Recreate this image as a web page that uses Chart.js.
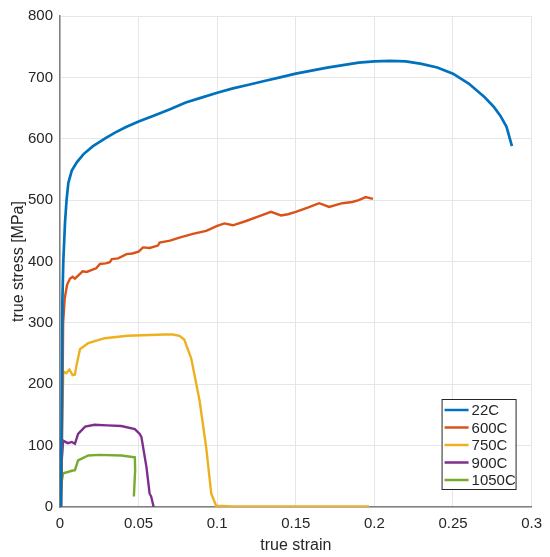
<!DOCTYPE html>
<html>
<head>
<meta charset="utf-8">
<script src="https://cdn.jsdelivr.net/npm/chart.js@4.4.1/dist/chart.umd.min.js"></script>
<style>
  html, body { margin: 0; padding: 0; background: #fff; }
  #wrap { width: 550px; height: 557px; position: relative; }
</style>
</head>
<body>
<div id="wrap"><canvas id="myChart"></canvas></div>
<script>
// valores
var etiquetas = ['22C', '600C', '750C', '900C', '1050C'];
var colores = ['#0072BD', '#D95319', '#EDB120', '#7E2F8E', '#77AC30'];

var strain22 = [0.0006, 0.0012, 0.0015, 0.0021, 0.0032, 0.0042, 0.0053, 0.0075, 0.0108, 0.015, 0.021, 0.029, 0.035, 0.042, 0.05, 0.06, 0.07, 0.08, 0.09, 0.1, 0.11, 0.12, 0.13, 0.14, 0.15, 0.16, 0.17, 0.18, 0.19, 0.2, 0.21, 0.22, 0.23, 0.24, 0.25, 0.26, 0.27, 0.276, 0.28, 0.284, 0.2875];
var stress22 = [0, 200, 334, 400, 464, 501, 528, 548, 562, 575, 588, 601, 610, 619, 628, 638, 648, 659, 667, 675, 682, 688, 694, 700, 706, 711, 716, 720, 724, 726, 727, 726, 722, 716, 706, 690, 668, 652, 638, 620, 588];

var strain600 = [0.0008, 0.0015, 0.002, 0.003, 0.0045, 0.0063, 0.008, 0.0095, 0.0127, 0.0144, 0.017, 0.0211, 0.023, 0.0254, 0.029, 0.0317, 0.033, 0.037, 0.0423, 0.046, 0.05, 0.0528, 0.057, 0.0623, 0.0634, 0.07, 0.076, 0.0845, 0.093, 0.1, 0.1046, 0.11, 0.1184, 0.1268, 0.1342, 0.1406, 0.145, 0.15, 0.158, 0.1649, 0.1712, 0.1796, 0.186, 0.19, 0.1945, 0.1991];
var stress600 = [0, 150, 300, 340, 362, 372, 375, 372, 380, 384, 383, 387, 389, 396, 397, 399, 404, 405, 412, 413, 416, 423, 422, 426, 431, 434, 439, 445, 450, 458, 462, 459, 466, 474, 481, 475, 477, 481, 488, 495, 489, 495, 497, 500, 505, 502];

var strain750 = [0.0005, 0.0012, 0.0021, 0.004, 0.006, 0.008, 0.0095, 0.0106, 0.0127, 0.018, 0.0285, 0.043, 0.0666, 0.0718, 0.076, 0.079, 0.0835, 0.0888, 0.093, 0.0962, 0.0993, 0.11, 0.15, 0.1966];
var stress750 = [0, 130, 221, 218, 224, 215, 216, 232, 257, 267, 275, 279, 281, 281, 279, 273, 242, 173, 97, 22, 2, 1, 1, 1];

var strain900 = [0.0003, 0.0012, 0.002, 0.005, 0.0075, 0.0095, 0.0115, 0.016, 0.022, 0.03, 0.039, 0.0476, 0.0507, 0.0518, 0.055, 0.057, 0.058, 0.0596];
var stress900 = [0, 80, 108, 104, 106, 103, 119, 131, 134, 133, 132, 127, 119, 114, 65, 22, 17, 0];

var strain1050 = [0, 0.001, 0.002, 0.005, 0.0075, 0.0095, 0.0115, 0.018, 0.025, 0.039, 0.0476, 0.0478, 0.047];
var stress1050 = [11, 40, 55, 57, 59, 60, 76, 84, 85, 84, 81, 60, 17];

var series = [[strain22, stress22], [strain600, stress600], [strain750, stress750], [strain900, stress900], [strain1050, stress1050]];

function puntos(xs, ys) {
    return xs.map(function (x, i) { return { x: x, y: ys[i] }; });
}

var datasets = series.map(function (s, i) {
    return {
        label: etiquetas[i],
        data: puntos(s[0], s[1]),
        borderColor: colores[i],
        backgroundColor: colores[i],
        borderWidth: i == 0 ? 2.7 : 2.4,
        showLine: true,
        pointRadius: 0,
        tension: 0
    };
});

// leyenda dibujada dentro del area como en matlab
const leyenda = {
    id: 'leyenda',
    afterDraw(chart) {
        const c = chart.ctx, a = chart.chartArea;
        const right = a.right - 16, bottom = a.bottom - 18;
        const w = 74, h = 90;
        const left = right - w, top = bottom - h;
        c.save();
        c.fillStyle = '#fff';
        c.fillRect(left, top, w, h);
        c.strokeStyle = '#262626';
        c.lineWidth = 1;
        c.strokeRect(left + 0.5, top + 0.5, w, h);
        c.font = '15px "Liberation Sans", Arial, sans-serif';
        c.textBaseline = 'middle';
        chart.data.datasets.forEach(function (d, i) {
            const y = top + 11 + i * 17.5;
            c.strokeStyle = d.borderColor;
            c.lineWidth = 2.5;
            c.beginPath();
            c.moveTo(left + 3, y);
            c.lineTo(left + 27, y);
            c.stroke();
            c.fillStyle = '#262626';
            c.fillText(d.label, left + 30, y + 1);
        });
        c.restore();
    }
};

const ctx = document.getElementById('myChart').getContext('2d');
const myChart = new Chart(ctx, {
    type: 'scatter',
    data: { datasets: datasets },
    options: {
        responsive: true,
        maintainAspectRatio: false,
        animation: false,
        layout: { padding: { top: 12, right: 17, left: 0, bottom: 0 } },
        plugins: {
            legend: { display: false },
            tooltip: { enabled: false }
        },
        scales: {
            x: {
                type: 'linear',
                min: 0,
                max: 0.3,
                afterFit: function (s) { s.height = 50; },
                ticks: {
                    stepSize: 0.05,
                    padding: 8,
                    color: '#262626',
                    font: { family: '"Liberation Sans", Arial, sans-serif', size: 15 },
                    maxRotation: 0,
                    callback: function (v) { return String(+v.toFixed(2)); }
                },
                grid: { color: '#e6e6e6', drawTicks: false },
                border: { color: '#808080', width: 1.5 },
                title: {
                    display: true,
                    text: 'true strain',
                    color: '#262626',
                    font: { family: '"Liberation Sans", Arial, sans-serif', size: 16 },
                    padding: { top: 0, bottom: 2 }
                }
            },
            y: {
                min: 0,
                max: 800,
                afterFit: function (s) { s.width = 60; },
                ticks: {
                    stepSize: 100,
                    padding: 7,
                    color: '#262626',
                    font: { family: '"Liberation Sans", Arial, sans-serif', size: 15 }
                },
                grid: { color: '#e6e6e6', drawTicks: false },
                border: { color: '#808080', width: 1.5 },
                title: {
                    display: true,
                    text: 'true stress [MPa]',
                    color: '#262626',
                    font: { family: '"Liberation Sans", Arial, sans-serif', size: 16 },
                    padding: { top: 9, bottom: 0 }
                }
            }
        }
    },
    plugins: [leyenda]
});
</script>
</body>
</html>
